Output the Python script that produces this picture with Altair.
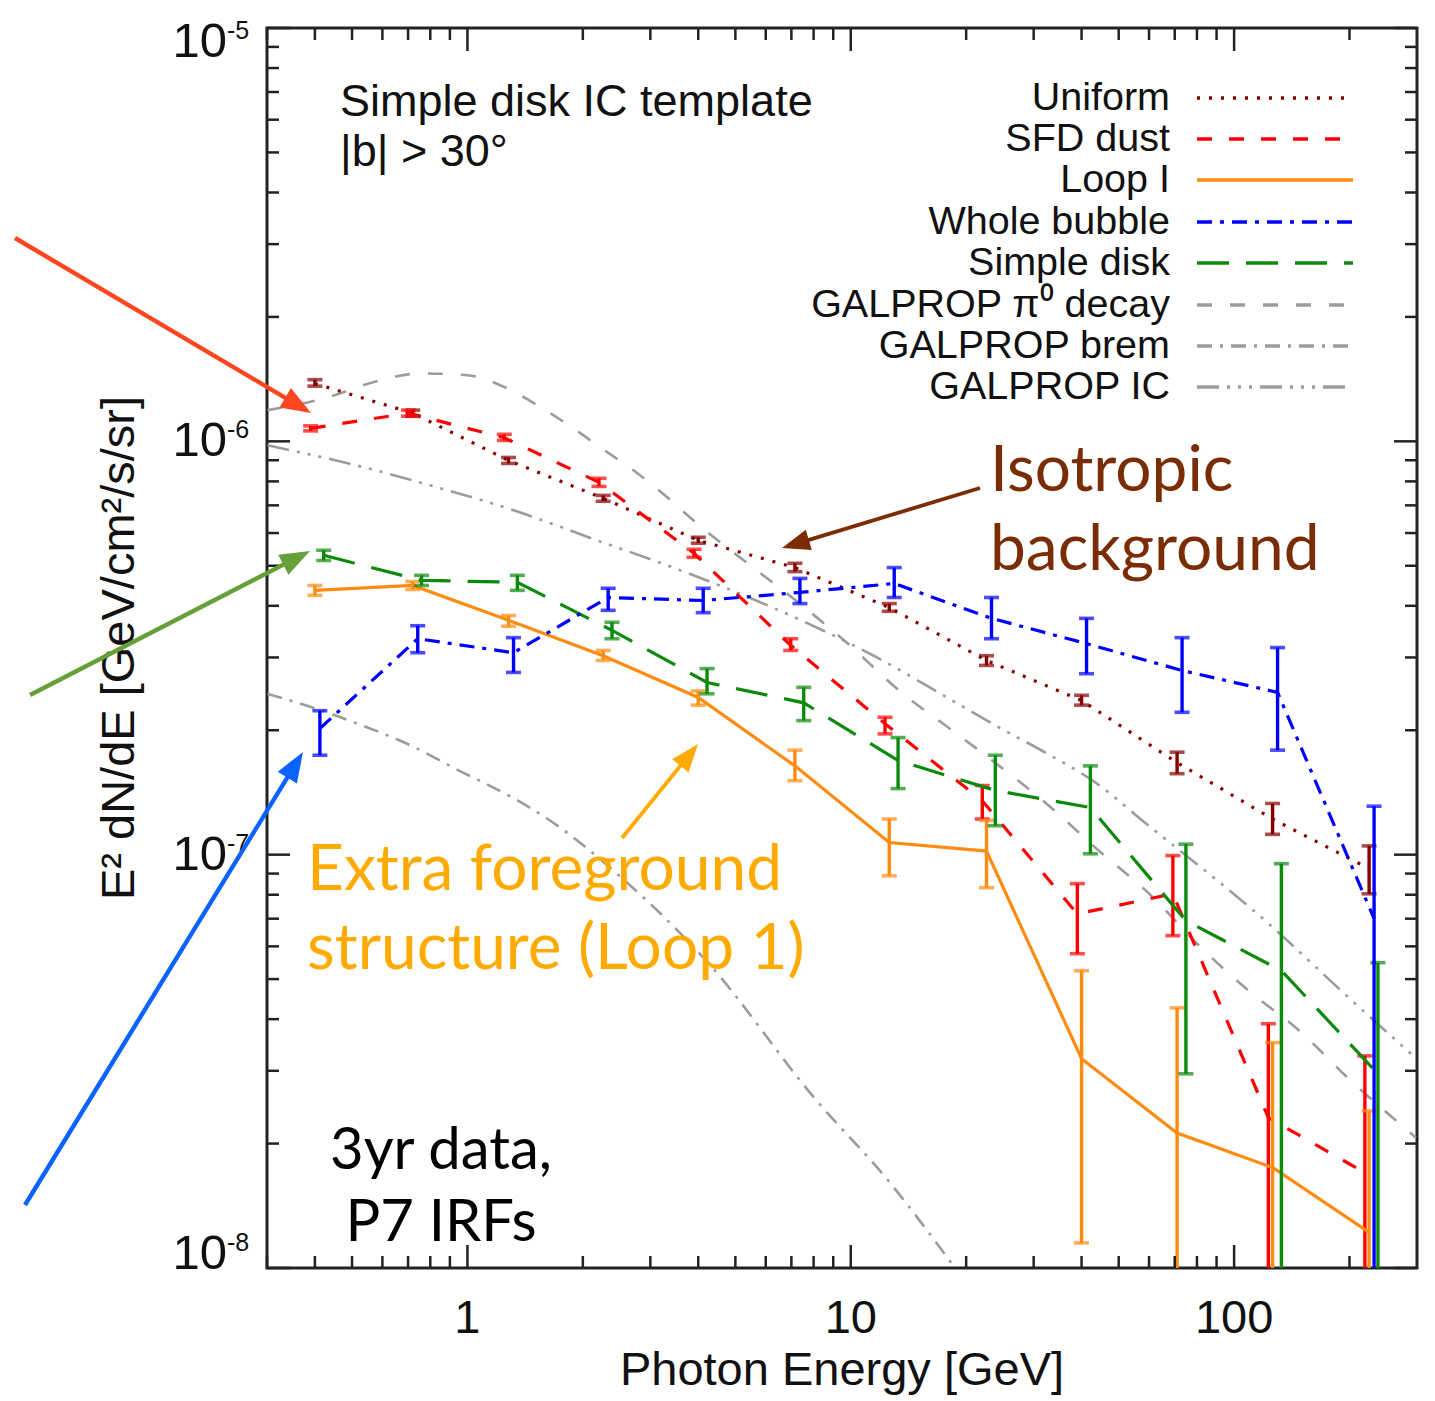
import math
import altair as alt
import pandas as pd

# ---------------- data ----------------
energy = [0.40, 0.72, 1.28, 2.26, 4.0, 7.15, 12.6, 22.6, 40.0, 71.0, 126.0, 225.0]

uniform_val = [1.38e-6, 1.17e-6, 8.99e-7, 7.28e-7, 5.76e-7, 4.95e-7, 3.96e-7, 2.95e-7, 2.36e-7, 1.67e-7, 1.22e-7, 9.25e-8]
uniform_hi = [1.41e-6, 1.19e-6, 9.14e-7, 7.40e-7, 5.86e-7, 5.07e-7, 4.05e-7, 3.03e-7, 2.43e-7, 1.77e-7, 1.33e-7, 1.05e-7]
uniform_lo = [1.36e-6, 1.15e-6, 8.84e-7, 7.16e-7, 5.67e-7, 4.84e-7, 3.88e-7, 2.87e-7, 2.30e-7, 1.57e-7, 1.12e-7, 8.04e-8]

sfd_val = [1.075e-6, 1.17e-6, 1.02e-6, 7.96e-7, 5.36e-7, 3.21e-7, 2.075e-7, 1.35e-7, 7.19e-8, 8.04e-8, 2.31e-8, 1.70e-8]
sfd_hi = [1.09e-6, 1.19e-6, 1.04e-6, 8.14e-7, 5.48e-7, 3.33e-7, 2.15e-7, 1.47e-7, 8.51e-8, 9.95e-8, 3.90e-8, 3.26e-8]
sfd_lo = [1.06e-6, 1.15e-6, 1.005e-6, 7.78e-7, 5.24e-7, 3.12e-7, 1.96e-7, 1.22e-7, 5.76e-8, 6.37e-8, 1e-9, 1e-9]

loop_val = [4.36e-7, 4.48e-7, 3.69e-7, 3.03e-7, 2.40e-7, 1.64e-7, 1.07e-7, 1.02e-7, 3.21e-8, 2.12e-8, 1.75e-8, 1.22e-8]
loop_hi = [4.48e-7, 4.58e-7, 3.79e-7, 3.12e-7, 2.49e-7, 1.79e-7, 1.22e-7, 1.21e-7, 5.24e-8, 4.26e-8, 3.51e-8, 2.40e-8]
loop_lo = [4.24e-7, 4.38e-7, 3.57e-7, 2.95e-7, 2.30e-7, 1.51e-7, 8.89e-8, 8.32e-8, 1.15e-8, 1e-9, 1e-9, 1e-9]

bubble_val = [2.02e-7, 3.33e-7, 3.08e-7, 4.19e-7, 4.12e-7, 4.31e-7, 4.53e-7, 3.73e-7, 3.24e-7, 2.79e-7, 2.47e-7, 7.0e-8]
bubble_hi = [2.23e-7, 3.58e-7, 3.35e-7, 4.41e-7, 4.41e-7, 4.66e-7, 4.95e-7, 4.19e-7, 3.73e-7, 3.35e-7, 3.17e-7, 1.31e-7]
bubble_lo = [1.74e-7, 3.08e-7, 2.76e-7, 3.90e-7, 3.85e-7, 4.05e-7, 4.19e-7, 3.33e-7, 2.74e-7, 2.21e-7, 1.79e-7, 1e-9]

disk_val = [5.30e-7, 4.61e-7, 4.56e-7, 3.49e-7, 2.61e-7, 2.33e-7, 1.69e-7, 1.43e-7, 1.30e-7, 6.92e-8, 5.24e-8, 2.95e-8]
disk_hi = [5.45e-7, 4.74e-7, 4.74e-7, 3.65e-7, 2.82e-7, 2.54e-7, 1.92e-7, 1.74e-7, 1.64e-7, 1.06e-7, 9.51e-8, 5.48e-8]
disk_lo = [5.15e-7, 4.48e-7, 4.36e-7, 3.33e-7, 2.45e-7, 2.11e-7, 1.445e-7, 1.175e-7, 1.005e-7, 2.95e-8, 1e-9, 1e-9]

pi0_E = [0.301, 0.422, 0.593, 0.754, 1.0, 1.27, 1.55, 1.89, 2.22, 2.71, 3.32, 3.97, 5.56, 7.36, 9.94,
         13.4, 18.1, 24.4, 33.0, 44.5, 60.1, 81.1, 109.0, 148.0, 199.0, 298.0]
pi0_val = [1.19e-6, 1.27e-6, 1.405e-6, 1.46e-6, 1.445e-6, 1.344e-6, 1.21e-6, 1.075e-6, 9.67e-7, 8.51e-7,
           7.32e-7, 6.33e-7, 4.95e-7, 4.05e-7, 3.21e-7, 2.49e-7, 2.02e-7, 1.64e-7, 1.31e-7, 1.02e-7,
           8.04e-8, 6.02e-8, 4.69e-8, 3.75e-8, 2.87e-8, 2.07e-8]

ic_E = [0.301, 0.487, 0.835, 1.32, 2.18, 3.44, 6.26, 11.7, 18.4, 24.4, 32.4, 43.7, 57.6, 123.0, 199.0, 298.0]
ic_val = [9.78e-7, 8.85e-7, 7.74e-7, 6.81e-7, 5.76e-7, 4.95e-7, 3.96e-7, 3.00e-7, 2.36e-7, 2.03e-7,
          1.76e-7, 1.49e-7, 1.21e-7, 6.81e-8, 4.51e-8, 3.22e-8]

brem_E = [0.301, 0.40, 0.52, 0.70, 0.948, 1.30, 1.62, 2.49, 4.24, 8.06, 12.5, 18.8]
brem_val = [2.45e-7, 2.26e-7, 2.07e-7, 1.85e-7, 1.60e-7, 1.38e-7, 1.22e-7, 8.89e-8, 5.48e-8, 2.57e-8, 1.63e-8, 9.94e-9]

x_major = [1, 10, 100]
x_labels = ["1", "10", "100"]
y_major = [1e-8, 1e-7, 1e-6, 1e-5]
y_exps = ["-8", "-7", "-6", "-5"]

# ---------------- styles ----------------
W, H = 1150, 1240
FONT = "Liberation Sans"
ANN = "Lato"
GRAY = "#9c9c9c"

xs = alt.Scale(type="log", domain=[0.3, 300], nice=False)
ys = alt.Scale(type="log", domain=[1e-8, 1e-5], nice=False)

styles = {
    "Uniform": dict(color="#860000", dash=[3, 9], width=3.2, dodge=0.0),
    "SFD dust": dict(color="#FF0000", dash=[15, 17], width=3.2, dodge=-0.011),
    "Loop I": dict(color="#FF8C10", dash=None, width=3.2, dodge=0.0),
    "Whole bubble": dict(color="#0000FF", dash=[15, 8, 4, 8], width=3.2, dodge=0.013),
    "Simple disk": dict(color="#0B8A0B", dash=[32, 17], width=3.2, dodge=0.023),
    "GALPROP π⁰ decay": dict(color=GRAY, dash=[15, 18], width=2.6),
    "GALPROP brem": dict(color=GRAY, dash=[15, 8, 3, 8], width=2.6),
    "GALPROP IC": dict(color=GRAY, dash=[22, 8, 3, 8, 3, 8, 3, 8], width=2.6),
}

X = lambda f: alt.X(f, scale=xs, axis=None)
Y = lambda f: alt.Y(f, scale=ys, axis=None)

layers = []

# GALPROP model curves
for name, E, V in [("GALPROP π⁰ decay", pi0_E, pi0_val),
                   ("GALPROP brem", brem_E, brem_val),
                   ("GALPROP IC", ic_E, ic_val)]:
    st = styles[name]
    df = pd.DataFrame({"E": E, "v": V})
    layers.append(alt.Chart(df).mark_line(color=st["color"], strokeDash=st["dash"],
                                          strokeWidth=st["width"], clip=True, interpolate="monotone")
                  .encode(x=X("E:Q"), y=Y("v:Q")))

# Template spectra with error bars
series = [
    ("Uniform", uniform_val, uniform_lo, uniform_hi),
    ("SFD dust", sfd_val, sfd_lo, sfd_hi),
    ("Loop I", loop_val, loop_lo, loop_hi),
    ("Simple disk", disk_val, disk_lo, disk_hi),
    ("Whole bubble", bubble_val, bubble_lo, bubble_hi),
]
for name, vals, lo, hi in series:
    st = styles[name]
    f = 10 ** st["dodge"]
    E = [e * f for e in energy]
    df = pd.DataFrame({"E": E, "v": vals, "lo": lo, "hi": hi})
    kw = dict(color=st["color"], strokeWidth=st["width"], clip=True)
    if st["dash"]:
        kw["strokeDash"] = st["dash"]
    layers.append(alt.Chart(df).mark_line(**kw).encode(x=X("E:Q"), y=Y("v:Q")))
    layers.append(alt.Chart(df).mark_rule(color=st["color"], strokeWidth=3.4, clip=True)
                  .encode(x=X("E:Q"), y=Y("lo:Q"), y2=alt.Y2("hi:Q")))
    caps = pd.DataFrame({"E": E + E, "c": list(lo) + list(hi)})
    layers.append(alt.Chart(caps).mark_tick(color=st["color"], orient="horizontal", size=15,
                                            thickness=3.6, clip=True)
                  .encode(x=X("E:Q"), y=Y("c:Q")))

# ---------------- frame ticks (inward, all four sides) ----------------
x_minor = [k * 10.0 ** e for e in (-1, 0, 1, 2) for k in range(2, 10)
           if 0.3 < k * 10.0 ** e < 299]
y_minor = [k * 10.0 ** e for e in (-8, -7, -6) for k in range(2, 10)]
TICK = "#222222"
for vals, L in [(x_major, 23), (x_minor, 12)]:
    d = pd.DataFrame({"t": vals})
    layers.append(alt.Chart(d).mark_rule(color=TICK, strokeWidth=2.5)
                  .encode(x=X("t:Q"), y=alt.value(H), y2=alt.value(H - L)))
    layers.append(alt.Chart(d).mark_rule(color=TICK, strokeWidth=2.5)
                  .encode(x=X("t:Q"), y=alt.value(0), y2=alt.value(L)))
for vals, L in [(y_major, 23), (y_minor, 12)]:
    d = pd.DataFrame({"t": vals})
    layers.append(alt.Chart(d).mark_rule(color=TICK, strokeWidth=2.5)
                  .encode(y=Y("t:Q"), x=alt.value(0), x2=alt.value(L)))
    layers.append(alt.Chart(d).mark_rule(color=TICK, strokeWidth=2.5)
                  .encode(y=Y("t:Q"), x=alt.value(W), x2=alt.value(W - L)))

# ---------------- tick labels & axis titles ----------------
# IDL nudges the end labels inward
label_nudge = [-14, 0, 0, 14]
for t, e, nd in zip(y_major, y_exps, label_nudge):
    d = pd.DataFrame({"t": [t], "base": ["10"], "exp": [e]})
    layers.append(alt.Chart(d).mark_text(align="right", baseline="middle", fontSize=49, font=FONT,
                                         color="#111", dy=nd)
                  .encode(y=Y("t:Q"), x=alt.value(-40), text="base:N"))
    layers.append(alt.Chart(d).mark_text(align="left", baseline="middle", fontSize=25, font=FONT,
                                         color="#111", dy=nd - 11)
                  .encode(y=Y("t:Q"), x=alt.value(-40), text="exp:N"))
xlab = pd.DataFrame({"t": x_major, "s": x_labels})
layers.append(alt.Chart(xlab).mark_text(align="center", baseline="middle", fontSize=47, font=FONT,
                                        color="#111")
              .encode(x=X("t:Q"), y=alt.value(H + 51), text="s:N"))

one = pd.DataFrame({"k": [0]})


def text(s, x, y, size, color="#111", font=FONT, align="left", baseline="alphabetic", angle=0):
    kw = dict(text=s, align=align, baseline=baseline, fontSize=size, font=font, color=color)
    if angle:
        kw["angle"] = angle
    return alt.Chart(one).mark_text(**kw).encode(x=alt.value(x), y=alt.value(y))


layers.append(text("Photon Energy [GeV]", W / 2, H + 103, 47, align="center", baseline="middle"))
layers.append(text("E² dN/dE [GeV/cm²/s/sr]", -147, H / 2, 47, align="center", baseline="middle",
                   angle=270))

# ---------------- in-plot texts and legend ----------------
layers.append(text("Simple disk IC template", 73, 88, 45))
layers.append(text("|b| > 30°", 73, 138, 45))

legend_names = ["Uniform", "SFD dust", "Loop I", "Whole bubble", "Simple disk",
                "GALPROP π⁰ decay", "GALPROP brem", "GALPROP IC"]
legend_rows = [70, 111, 152, 194, 235, 277, 318, 359]
for name, ry in zip(legend_names, legend_rows):
    st = styles[name]
    layers.append(text(name, 903, ry, 39.5, align="right", baseline="middle"))
    kw = dict(color=st["color"], strokeWidth=3.6)
    if st["dash"]:
        kw["strokeDash"] = st["dash"]
    layers.append(alt.Chart(one).mark_rule(**kw)
                  .encode(x=alt.value(930), x2=alt.value(1086), y=alt.value(ry)))

# ---------------- annotations (outside / over the plot) ----------------
ARROW_HEAD = "M0,0L-0.75,2L0.75,2Z"


def arrow(x0, y0, x1, y1, color, width=4.4, head=30):
    L = math.hypot(x1 - x0, y1 - y0)
    ux, uy = (x1 - x0) / L, (y1 - y0) / L
    xe, ye = x1 - ux * head * 0.7, y1 - uy * head * 0.7
    ang = math.degrees(math.atan2(x1 - x0, -(y1 - y0))) % 360
    line = alt.Chart(one).mark_rule(color=color, strokeWidth=width).encode(
        x=alt.value(x0), y=alt.value(y0), x2=alt.value(xe), y2=alt.value(ye))
    tip = alt.Chart(one).mark_point(shape=ARROW_HEAD, filled=True, color=color, opacity=1,
                                    size=head * head, angle=ang, strokeWidth=0).encode(
        x=alt.value(x1), y=alt.value(y1))
    return [line, tip]


layers += arrow(-252, 210, 44, 385, "#FF4620")
layers += arrow(-237, 667, 43, 523, "#66A03A")
layers += arrow(-242, 1177, 36, 724, "#0A62FF")
layers += arrow(355, 810, 431, 716, "#FFAA00", width=3.8, head=28)
layers += arrow(713, 460, 515, 520, "#7A2C04", width=3.8, head=28)

BROWN = "#7A2C04"
ORANGE = "#FFAA00"
layers.append(text("Isotropic", 723, 463, 64, color=BROWN, font=ANN))
layers.append(text("background", 723, 542, 64, color=BROWN, font=ANN))
layers.append(text("Extra foreground", 40, 862, 64, color=ORANGE, font=ANN))
layers.append(text("structure (Loop 1)", 40, 941, 64, color=ORANGE, font=ANN))
layers.append(text("3yr data,", 174, 1141, 58, color="#000", font=ANN, align="center"))
layers.append(text("P7 IRFs", 174, 1213, 58, color="#000", font=ANN, align="center"))

chart = alt.layer(*layers).properties(
    width=W, height=H,
    autosize=alt.AutoSizeParams(type="none"),
    padding={"left": 267, "top": 28, "right": 18, "bottom": 133},
    background="white",
).configure_view(stroke="#222222", strokeWidth=3)

chart.save("out.html", embed_options={"renderer": "svg", "actions": False})
